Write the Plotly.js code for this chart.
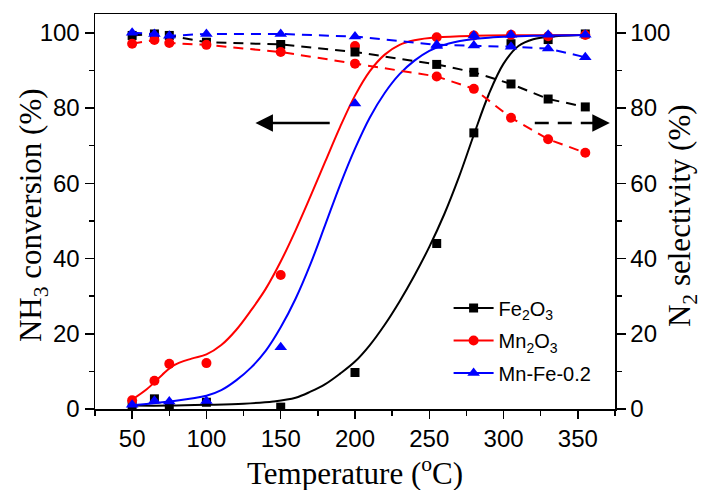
<!DOCTYPE html>
<html>
<head>
<meta charset="utf-8">
<script src="https://cdn.plot.ly/plotly-3.0.1.min.js"></script>
<style>html,body{margin:0;padding:0;background:#fff;}#chart{width:708px;height:490px;}</style>
</head>
<body>
<div id="chart"></div>
<script>
// Measured temperatures (°C)
const temps = [50, 65, 75, 100, 150, 200, 255, 280, 305, 330, 355];

// NH3 conversion (%) – left axis
const convFe = [0.9, 2.7, 0.9, 1.8, 0.5, 9.7, 44.0, 73.4, 97.1, 98.2, 99.7];
const convMn = [2.3, 7.5, 12.0, 12.2, 35.6, 96.5, 98.8, 99.3, 99.5, 99.1, 99.4];
const convMnFe = [1.1, 2.2, 2.0, 2.1, 16.4, 81.2, 96.5, 99.3, 99.5, 99.5, 99.5];

// N2 selectivity (%) – right axis
const selFe = [99.3, 99.7, 99.3, 97.5, 96.9, 94.9, 91.6, 89.5, 86.4, 82.4, 80.3];
const selMn = [97.1, 98.1, 97.3, 96.8, 94.9, 91.8, 88.4, 85.1, 77.4, 71.7, 68.1];
const selMnFe = [100.0, 99.7, 99.2, 99.7, 99.7, 99.0, 96.8, 96.6, 96.3, 95.8, 93.5];

// Fitted conversion curves
const fitTFe = [50, 75, 100, 125, 145, 160, 170, 180, 190, 200, 210, 220, 230, 240, 250, 260, 270, 280, 290, 300, 310, 320, 335, 358];
const fitYFe = [0.9, 0.9, 1.1, 1.4, 2.0, 3.0, 4.6, 6.6, 9.4, 12.6, 17.0, 22.4, 28.6, 35.5, 43.1, 51.7, 61.7, 72.9, 83.6, 91.8, 96.5, 98.3, 99.1, 99.5];
const fitTMn = [50, 60, 70, 78, 90, 100, 110, 120, 130, 140, 150, 160, 170, 180, 190, 200, 210, 220, 230, 240, 255, 280, 358];
const fitYMn = [2.5, 5.3, 9.0, 11.6, 13.4, 14.5, 17.0, 21.0, 26.2, 32.0, 39.2, 47.5, 56.5, 65.8, 75.0, 83.3, 89.8, 94.2, 96.8, 98.0, 98.8, 99.2, 99.4];
const fitTMnFe = [50, 75, 100, 110, 120, 130, 140, 150, 160, 170, 180, 190, 200, 210, 220, 230, 240, 250, 260, 275, 290, 320, 358];
const fitYMnFe = [1.0, 2.0, 3.5, 5.0, 7.6, 11.0, 15.5, 21.7, 29.3, 38.5, 49.0, 59.6, 69.2, 77.5, 84.0, 89.0, 92.6, 95.2, 96.8, 98.1, 98.7, 99.2, 99.4];

// Legend names and axis titles
const names = ['Fe<sub>2</sub>O<sub>3</sub>', 'Mn<sub>2</sub>O<sub>3</sub>', 'Mn-Fe-0.2'];
const xTitle = 'Temperature (<sup>o</sup>C)';
const yTitle = 'NH<sub>3</sub> conversion (%)';
const y2Title = 'N<sub>2</sub> selectivity (%)';

const colors = ['#000000', '#ff0000', '#0000ff'];
const symbols = ['square', 'circle', 'triangle-up'];
const msize = [9, 10, 11];

// Arrow positions (data units): [tail x, head x, y]
const leftArrow = [184, 133, 76];
const rightArrow = [321, 371.5, 76];

const conv = [convFe, convMn, convMnFe];
const sel = [selFe, selMn, selMnFe];
const fitT = [fitTFe, fitTMn, fitTMnFe];
const fitY = [fitYFe, fitYMn, fitYMnFe];

const traces = [];
for (let i = 0; i < 3; i++) {
  traces.push({
    x: temps, y: sel[i], yaxis: 'y2', type: 'scatter', mode: 'lines+markers',
    line: {color: colors[i], width: 2, dash: '10px,7px'},
    marker: {color: colors[i], symbol: symbols[i], size: msize[i]},
    showlegend: false, hoverinfo: 'skip'
  });
}
for (let i = 0; i < 3; i++) {
  traces.push({
    x: fitT[i], y: fitY[i], type: 'scatter', mode: 'lines',
    line: {color: colors[i], width: 2, shape: 'spline', smoothing: 1},
    showlegend: false, hoverinfo: 'skip'
  });
  traces.push({
    x: temps, y: conv[i], type: 'scatter', mode: 'markers',
    marker: {color: colors[i], symbol: symbols[i], size: msize[i]},
    showlegend: false, hoverinfo: 'skip'
  });
}
for (let i = 0; i < 3; i++) {
  traces.push({
    x: [null], y: [null], type: 'scatter', mode: 'lines+markers', name: names[i],
    legendgroup: 'g' + i,
    line: {color: colors[i], width: 2},
    marker: {color: colors[i], symbol: symbols[i], size: msize[i]}
  });
}

const tickFont = {family: 'Liberation Sans, Arial, sans-serif', size: 24, color: '#000'};
const titleFont = {family: 'Liberation Serif, Times New Roman, serif', size: 31, color: '#000'};

const layout = {
  width: 708, height: 490,
  margin: {l: 95, r: 93, t: 14, b: 81, pad: 0},
  paper_bgcolor: '#fff', plot_bgcolor: '#fff',
  showlegend: true,
  legend: {x: 0.68, y: 0.305, xanchor: 'left', yanchor: 'top', bgcolor: 'rgba(0,0,0,0)',
           font: {family: 'Liberation Sans, Arial, sans-serif', size: 20, color: '#000'},
           tracegroupgap: 3.5, itemwidth: 40},
  xaxis: {
    range: [25, 375], tick0: 50, dtick: 50, showgrid: false, zeroline: false,
    showline: true, linecolor: '#000', linewidth: 1.5, mirror: true,
    ticks: 'outside', ticklen: 8, tickwidth: 1.5, tickcolor: '#000',
    minor: {dtick: 25, ticks: 'outside', ticklen: 5, tickwidth: 1.5, tickcolor: '#000'},
    tickfont: tickFont
  },
  yaxis: {
    range: [0, 105], tick0: 0, dtick: 20, showgrid: false, zeroline: false,
    showline: true, linecolor: '#000', linewidth: 1.5,
    ticks: 'outside', ticklen: 9, tickwidth: 1.5, tickcolor: '#000',
    minor: {dtick: 10, ticks: 'outside', ticklen: 5, tickwidth: 1.5, tickcolor: '#000'},
    tickfont: tickFont
  },
  yaxis2: {
    range: [0, 105], tick0: 0, dtick: 20, overlaying: 'y', side: 'right', showgrid: false, zeroline: false,
    showline: true, linecolor: '#000', linewidth: 1.5,
    ticks: 'outside', ticklen: 9, tickwidth: 1.5, tickcolor: '#000',
    minor: {dtick: 10, ticks: 'outside', ticklen: 5, tickwidth: 1.5, tickcolor: '#000'},
    tickfont: tickFont
  },
  shapes: [
    {type: 'line', xref: 'x', yref: 'y', x0: rightArrow[0], x1: rightArrow[1] - 8, y0: rightArrow[2], y1: rightArrow[2],
     line: {color: '#000', width: 2.5, dash: '14px,9px'}}
  ],
  annotations: [
    {xref: 'x', yref: 'y', axref: 'x', ayref: 'y', x: leftArrow[1], y: leftArrow[2], ax: leftArrow[0], ay: leftArrow[2],
     text: '', showarrow: true, arrowhead: 2, arrowsize: 1.4, arrowwidth: 2.5, arrowcolor: '#000'},
    {xref: 'x', yref: 'y', axref: 'x', ayref: 'y', x: rightArrow[1], y: rightArrow[2], ax: rightArrow[1] - 9, ay: rightArrow[2],
     text: '', showarrow: true, arrowhead: 2, arrowsize: 1.4, arrowwidth: 2.5, arrowcolor: '#000'},
    {xref: 'paper', yref: 'paper', x: 0.5, y: -0.158, xanchor: 'center', yanchor: 'middle',
     showarrow: false, text: xTitle, font: {family: titleFont.family, size: 31, color: '#000'}},
    {xref: 'paper', yref: 'paper', x: -0.118, y: 0.49, xanchor: 'center', yanchor: 'middle', textangle: -90,
     showarrow: false, text: yTitle, font: titleFont},
    {xref: 'paper', yref: 'paper', x: 1.13, y: 0.49, xanchor: 'center', yanchor: 'middle', textangle: -90,
     showarrow: false, text: y2Title, font: titleFont}
  ]
};

Plotly.newPlot('chart', traces, layout, {displayModeBar: false, staticPlot: true});
</script>
</body>
</html>
